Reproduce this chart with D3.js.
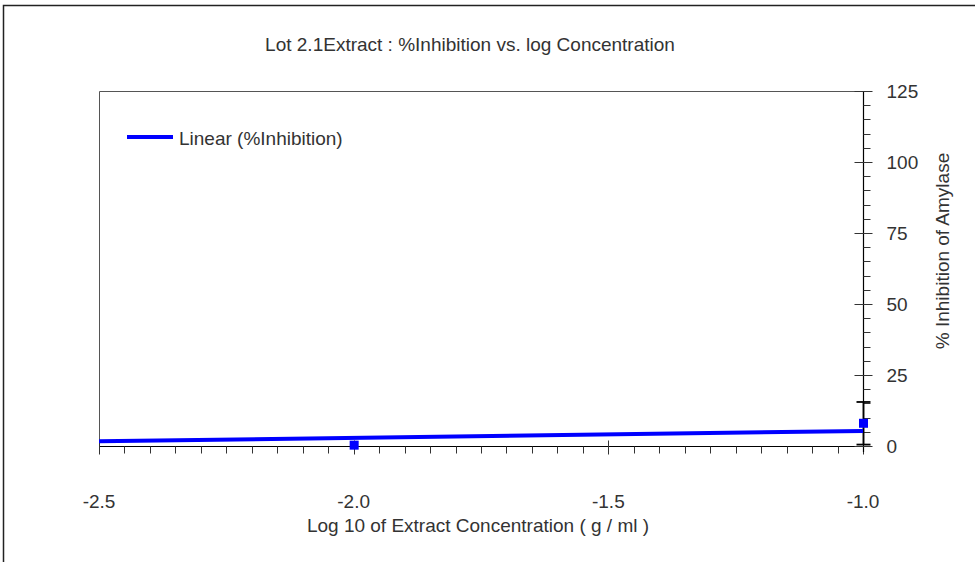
<!DOCTYPE html>
<html>
<head>
<meta charset="utf-8">
<script src="https://cdn.jsdelivr.net/npm/d3@7"></script>
<style>
body { margin: 0; background: #fff; }
text { font-family: "Liberation Sans", Arial, sans-serif; fill: #333; }
</style>
</head>
<body>
<div id="chart"></div>
<script>
// DATA
var logConc = [-2.0, -1.0];
var inhibition = [0.3, 8.0];
var inhibitionErr = [0, 7.5];
var trendX = [-2.5, -1.0];
var trendY = [1.65, 5.3];
var xTicks = [-2.5, -2.0, -1.5, -1.0];
var yTicks = [0, 25, 50, 75, 100, 125];

var width = 975, height = 562;
// plot box (note: don't call it "top", that's window.top)
var plotLeft = 99, plotRight = 863, plotTop = 91, plotBottom = 446;
var fontSize = '19px';

var svg = d3.select('#chart').append('svg')
    .attr('width', width)
    .attr('height', height);

// outer frame (only top + left show in the picture)
svg.append('path')
    .attr('d', 'M3.5,' + height + 'V5.5H' + width)
    .attr('fill', 'none')
    .attr('stroke', '#222')
    .attr('stroke-width', 1.5);

var x = d3.scaleLinear().domain([-2.5, -1.0]).range([plotLeft, plotRight]);
var y = d3.scaleLinear().domain([0, 125]).range([plotBottom, plotTop]);
var fmt = d3.formatLocale({decimal: '.', thousands: ',', grouping: [3], currency: ['', ''], minus: '-'}).format('.1f');

// plot frame top + left
svg.append('path')
    .attr('d', 'M' + (plotLeft + 0.5) + ',' + plotBottom + 'V' + (plotTop + 0.5) + 'H' + plotRight)
    .attr('fill', 'none')
    .attr('stroke', '#555')
    .attr('stroke-width', 1);

// x axis - minor ticks every 0.05 hang below, major ones cross
var xAxis = svg.append('g').attr('transform', 'translate(0,' + (plotBottom + 0.5) + ')');
xAxis.append('line')
    .attr('x1', plotLeft).attr('x2', plotRight)
    .attr('stroke', '#000').attr('stroke-width', 1.2);
xAxis.selectAll('.xminor')
    .data(d3.range(0, 31).map(function(i){ return -2.5 + i * 0.05; }))
    .enter().append('line')
    .attr('x1', function(d){ return Math.round(x(d)) + 0.5; })
    .attr('x2', function(d){ return Math.round(x(d)) + 0.5; })
    .attr('y1', 0).attr('y2', 7)
    .attr('stroke', '#333');
xAxis.selectAll('.xmajor')
    .data(xTicks).enter().append('line')
    .attr('x1', function(d){ return Math.round(x(d)) + 0.5; })
    .attr('x2', function(d){ return Math.round(x(d)) + 0.5; })
    .attr('y1', -6).attr('y2', 8)
    .attr('stroke', '#333');
xAxis.selectAll('.xlabel')
    .data(xTicks).enter().append('text')
    .attr('x', function(d){ return x(d); })
    .attr('y', 61)
    .attr('text-anchor', 'middle')
    .style('font-size', fontSize)
    .text(function(d){ return fmt(d); });

// y axis on the right
var yAxis = svg.append('g').attr('transform', 'translate(' + (plotRight + 0.5) + ',0)');
yAxis.append('line')
    .attr('y1', plotTop).attr('y2', plotBottom + 6)
    .attr('stroke', '#000').attr('stroke-width', 1.2);
yAxis.selectAll('.yminor')
    .data(d3.range(0, 126, 5)).enter().append('line')
    .attr('y1', function(d){ return Math.round(y(d)) + 0.5; })
    .attr('y2', function(d){ return Math.round(y(d)) + 0.5; })
    .attr('x1', 0).attr('x2', 7)
    .attr('stroke', '#333');
yAxis.selectAll('.ymajor')
    .data(yTicks).enter().append('line')
    .attr('y1', function(d){ return Math.round(y(d)) + 0.5; })
    .attr('y2', function(d){ return Math.round(y(d)) + 0.5; })
    .attr('x1', -9).attr('x2', 9)
    .attr('stroke', '#333');
yAxis.selectAll('.ylabel')
    .data(yTicks).enter().append('text')
    .attr('x', 23)
    .attr('y', function(d){ return y(d) + 7; })
    .style('font-size', fontSize)
    .text(function(d){ return d; });

// error bars
var errG = svg.append('g');
logConc.forEach(function(d, i){
    if (inhibitionErr[i] === 0) return;
    var cx = x(d) + 0.5;
    var y1 = y(inhibition[i] - inhibitionErr[i]);
    var y2 = y(inhibition[i] + inhibitionErr[i]);
    errG.append('line').attr('x1', cx).attr('x2', cx).attr('y1', y1).attr('y2', y2)
        .attr('stroke', '#000').attr('stroke-width', 1.8);
    [y1, y2].forEach(function(yy){
        errG.append('line').attr('x1', cx - 7).attr('x2', cx + 7).attr('y1', yy).attr('y2', yy)
            .attr('stroke', '#000').attr('stroke-width', 1.8);
    });
});

// linear trend line
var trendLine = d3.line()
    .x(function(d){ return x(d[0]); })
    .y(function(d){ return y(d[1]); });
svg.append('path')
    .datum(d3.zip(trendX, trendY))
    .attr('d', trendLine)
    .attr('fill', 'none')
    .attr('stroke', '#0000ff')
    .attr('stroke-width', 4);

// data points
svg.selectAll('.pt')
    .data(d3.zip(logConc, inhibition)).enter().append('rect')
    .attr('x', function(d){ return x(d[0]) - 4; })
    .attr('y', function(d){ return y(d[1]) - 4.5; })
    .attr('width', 9).attr('height', 9)
    .attr('fill', '#0000ff');

// legend
svg.append('line')
    .attr('x1', 127).attr('x2', 173)
    .attr('y1', 137).attr('y2', 137)
    .attr('stroke', '#0000ff').attr('stroke-width', 4);
svg.append('text')
    .attr('x', 179).attr('y', 145)
    .style('font-size', fontSize)
    .text('Linear (%Inhibition)');

// titles
svg.append('text')
    .attr('x', 470).attr('y', 51)
    .attr('text-anchor', 'middle')
    .style('font-size', fontSize)
    .text('Lot 2.1Extract : %Inhibition vs. log Concentration');
svg.append('text')
    .attr('x', 478).attr('y', 532)
    .attr('text-anchor', 'middle')
    .style('font-size', fontSize)
    .text('Log 10 of Extract Concentration ( g / ml )');
svg.append('text')
    .attr('transform', 'translate(949,251) rotate(-90)')
    .attr('text-anchor', 'middle')
    .style('font-size', fontSize)
    .text('% Inhibition of Amylase');
</script>
</body>
</html>
